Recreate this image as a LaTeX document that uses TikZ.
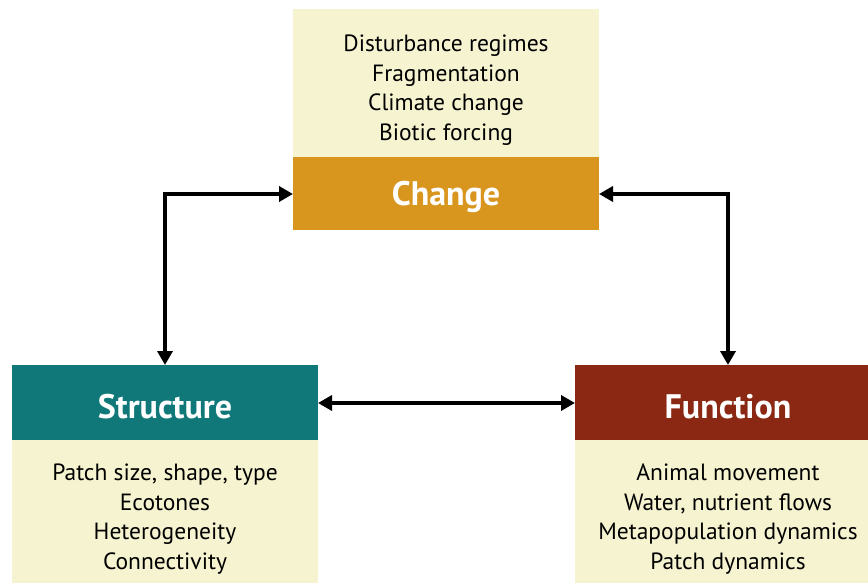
\documentclass[tikz,border=0pt]{standalone}
\usepackage{fontspec}
\setmainfont{PT Sans}
\usetikzlibrary{arrows.meta}
\definecolor{paleyellow}{HTML}{F6F4D0}
\definecolor{ochre}{HTML}{D8961F}
\definecolor{teal}{HTML}{117879}
\definecolor{rust}{HTML}{8A2814}
\begin{document}
\begin{tikzpicture}[x=1pt,y=-1pt,
  listbox/.style={fill=paleyellow, align=center, font=\fontsize{23.5}{29.5}\selectfont, inner sep=0pt},
  headbox/.style={align=center, text=white, font=\fontsize{34}{36}\selectfont\bfseries, inner sep=0pt},
  link/.style={line width=4pt, {Triangle[length=14pt,width=15pt]}-{Triangle[length=14pt,width=15pt]}}]
\useasboundingbox (0,0) rectangle (868,583);
% Change (top)
\fill[paleyellow] (293,9) rectangle (599,157);
\node[listbox] (changelist) at (446,90) {Disturbance regimes\\Fragmentation\\Climate change\\Biotic forcing};
\fill[ochre] (293,157) rectangle (599,230);
\node[headbox] (change) at (446,197) {Change};
\coordinate (changeW) at (293,194);
\coordinate (changeE) at (599,194);
% Structure (left)
\fill[teal] (12,365) rectangle (318,440);
\node[headbox] (structure) at (165,407) {Structure};
\fill[paleyellow] (12,440) rectangle (318,583);
\node[listbox] (structurelist) at (165,519) {Patch size, shape, type\\Ecotones\\Heterogeneity\\Connectivity};
\coordinate (structureN) at (165,365);
\coordinate (structureE) at (318,403);
% Function (right)
\fill[rust] (575,365) rectangle (868,440);
\node[headbox] (function) at (728,407) {Function};
\fill[paleyellow] (575,440) rectangle (868,583);
\node[listbox] (functionlist) at (728,519) {Animal movement\\Water, nutrient flows\\Metapopulation dynamics\\Patch dynamics};
\coordinate (functionN) at (728,365);
\coordinate (functionW) at (575,403);
% connectors
\draw[link] (structureN) |- (changeW);
\draw[link] (functionN) |- (changeE);
\draw[link] (structureE) -- (functionW);
\end{tikzpicture}
\end{document}
